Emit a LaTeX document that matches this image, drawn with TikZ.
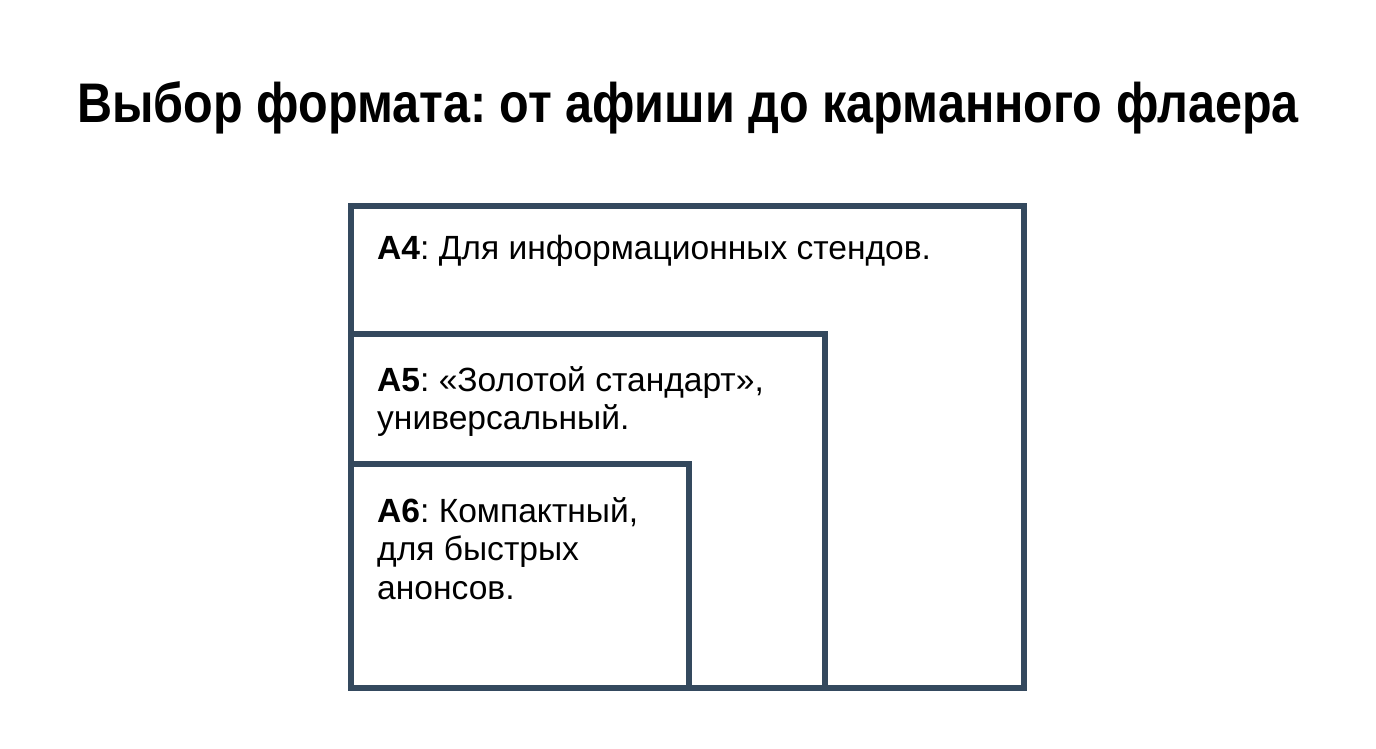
\documentclass[tikz,border=0pt]{standalone}
\usepackage{fontspec}
\setmainfont{Liberation Sans}
\newfontfamily\titlefont{Liberation Sans}[FakeStretch=0.87]
\usepackage{tikz}

\definecolor{slate}{HTML}{34495E}

\begin{document}
\frenchspacing
\begin{tikzpicture}[
		x=1bp, y=-1bp,
		box/.style={rectangle, draw=slate, line width=6.5bp, inner sep=0pt, outer sep=0pt, anchor=north west},
		label txt/.style={anchor=base west, inner sep=0pt, align=left, font=\fontsize{33.7}{38.5}\selectfont}
	]
  \useasboundingbox (0,0) rectangle (1376,748);
  \node (title) [anchor=base, inner sep=0pt, font=\fontsize{56}{60}\titlefont\bfseries] at (688,122) {Выбор формата: от афиши до карманного флаера};
  % nested paper sizes
  \node (a4) [box, minimum width=673bp, minimum height=482bp] at (351,206) {};
  \node (a5) [box, minimum width=474bp, minimum height=354bp] at (351,334) {};
  \node (a6) [box, minimum width=338bp, minimum height=224bp] at (351,464) {};
  % base of the last line
  \node (a4txt) [label txt] at (377,259) {\textbf{A4}: Для информационных стендов.};
  \node (a5txt) [label txt] at (377,429.5) {\textbf{A5}: «Золотой стандарт»,\\универсальный.};
  \node (a6txt) [label txt] at (377,599) {\textbf{A6}: Компактный,\\для быстрых\\анонсов.};
\end{tikzpicture}
\end{document}
